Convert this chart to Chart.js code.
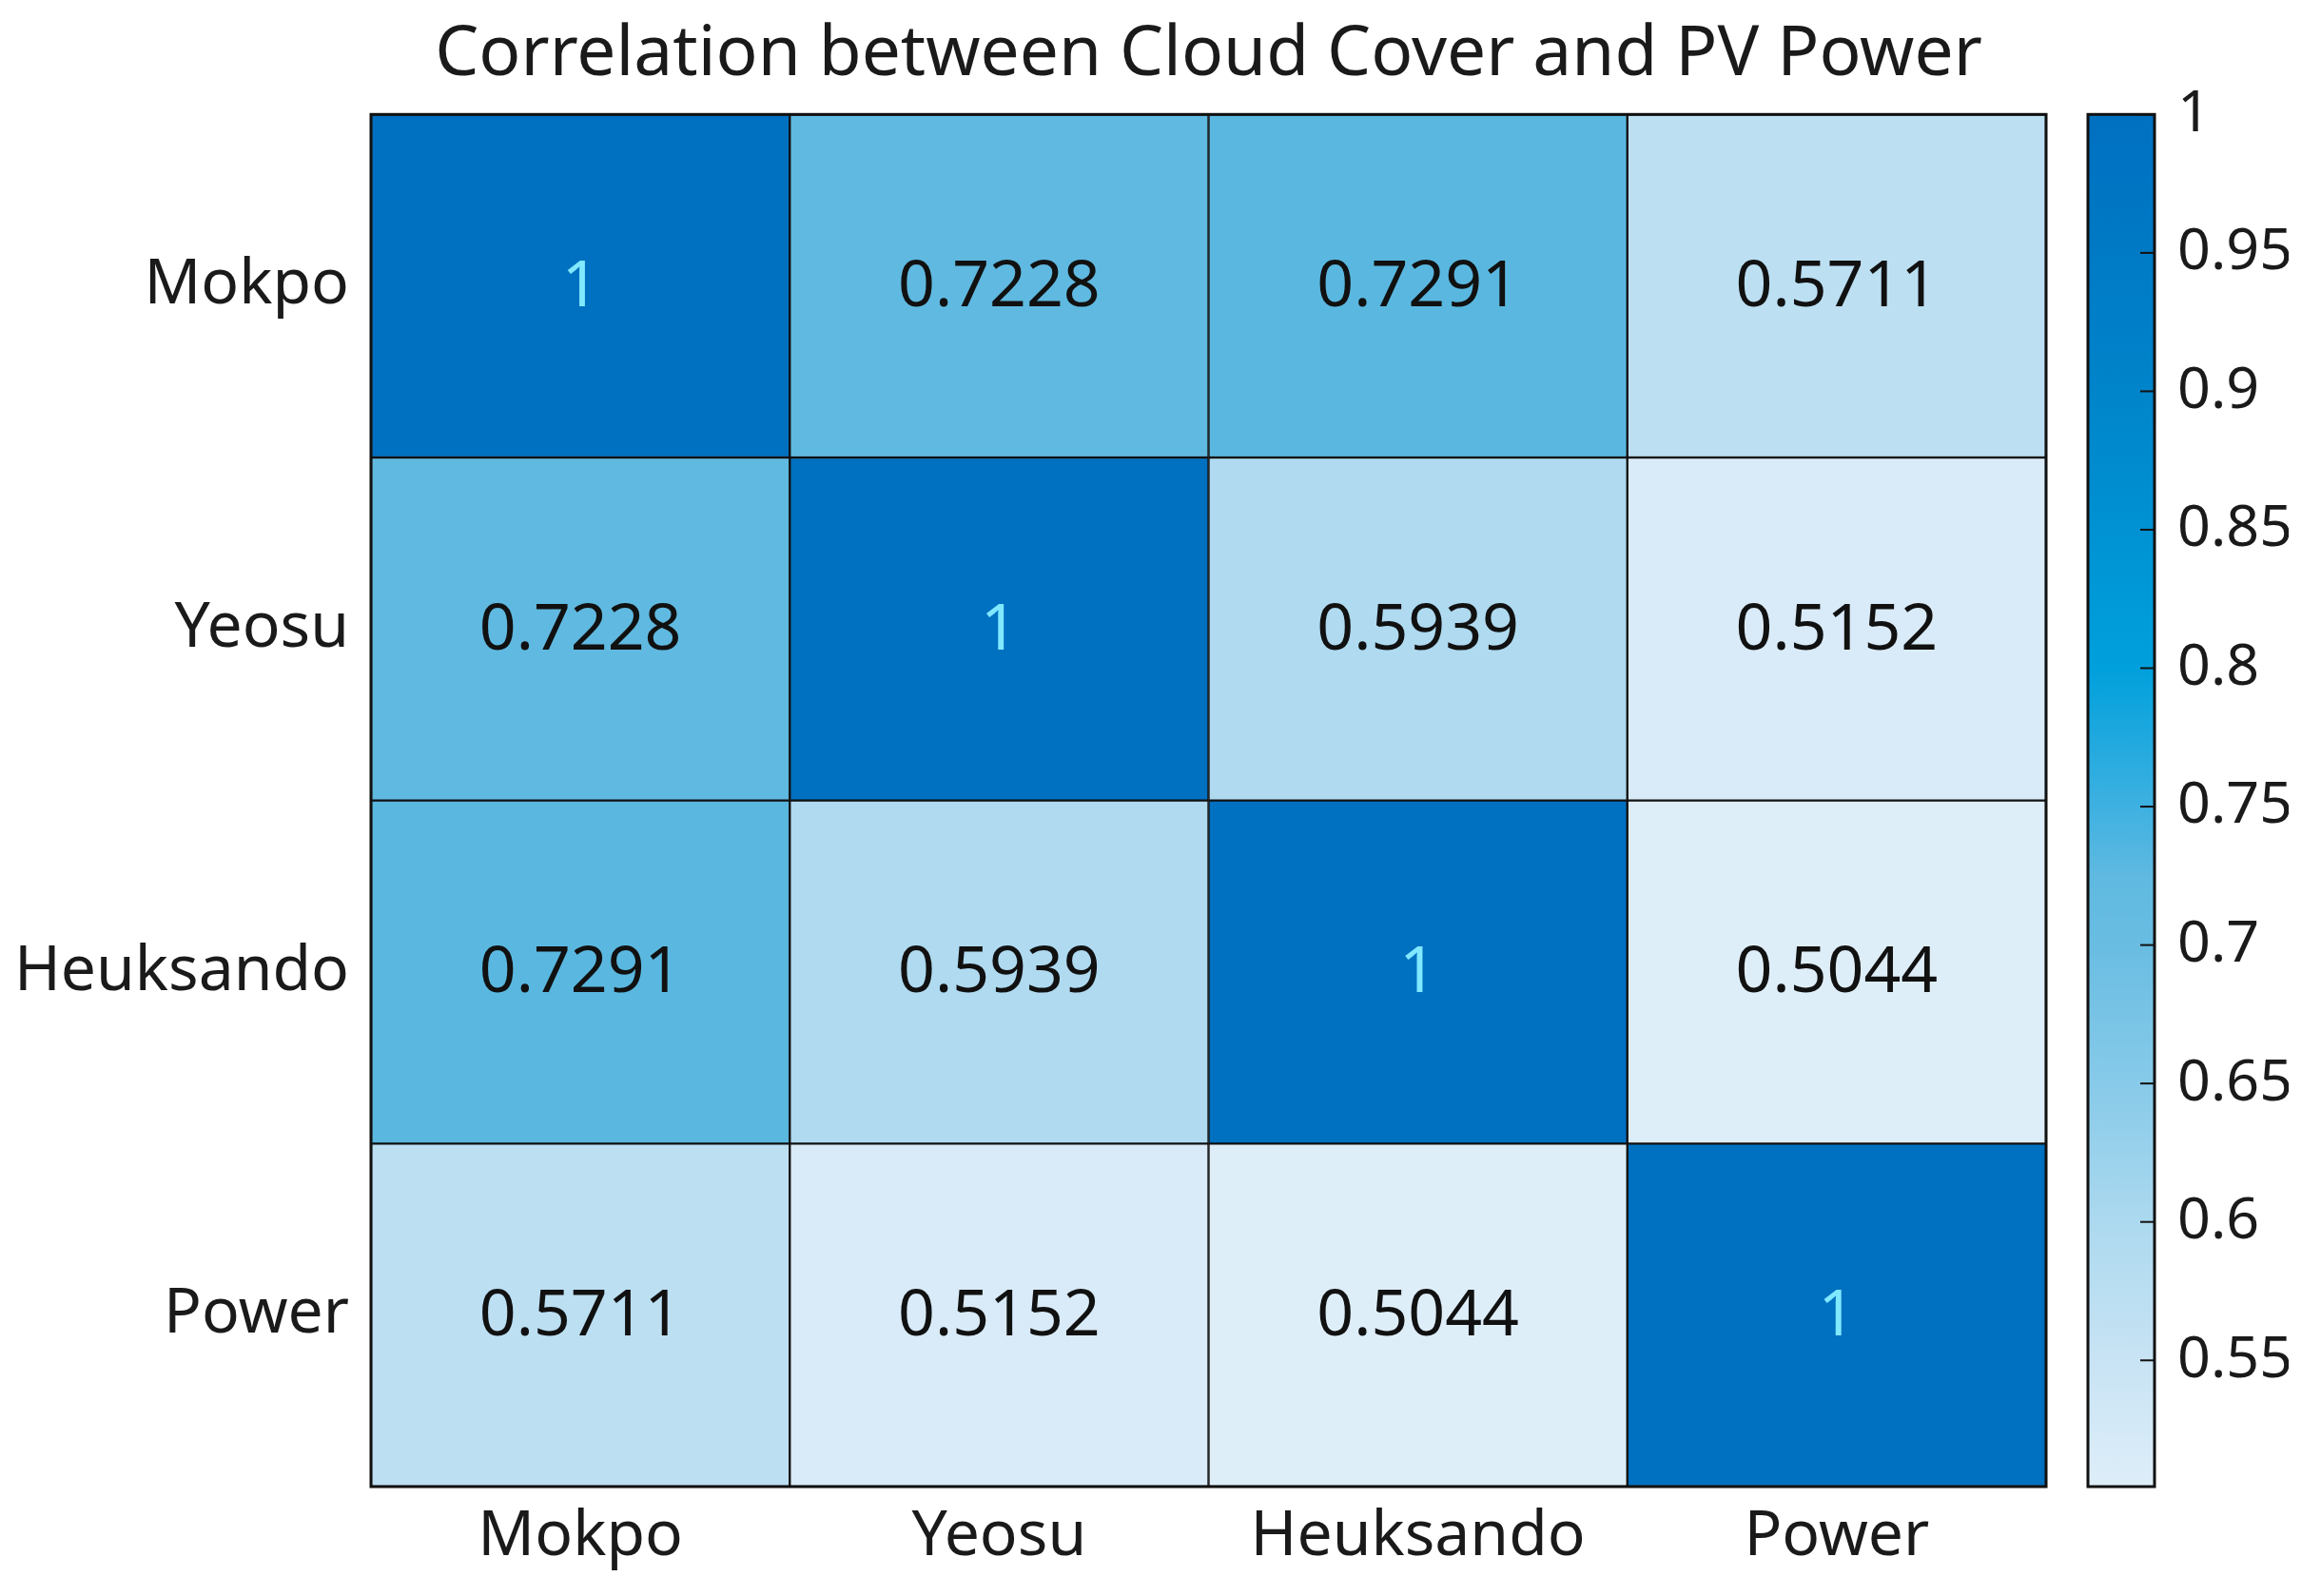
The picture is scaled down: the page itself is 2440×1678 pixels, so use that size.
<!DOCTYPE html>
<html>
<head>
<meta charset="utf-8">
<script src="https://cdn.jsdelivr.net/npm/chart.js@4.4.1/dist/chart.umd.min.js"></script>
<style>
  html, body { margin: 0; padding: 0; background: #fff; }
  #wrap { width: 2440px; height: 1678px; }
</style>
</head>
<body>
<div id="wrap"><canvas id="heat" width="2440" height="1678"></canvas></div>
<script>
// Data
const colLabels = ['Mokpo', 'Yeosu', 'Heuksando', 'Power'];
const rowLabels = ['Mokpo', 'Yeosu', 'Heuksando', 'Power'];
const rowMokpo = [1, 0.7228, 0.7291, 0.5711];
const rowYeosu = [0.7228, 1, 0.5939, 0.5152];
const rowHeuksando = [0.7291, 0.5939, 1, 0.5044];
const rowPower = [0.5711, 0.5152, 0.5044, 1];
const matrix = [rowMokpo, rowYeosu, rowHeuksando, rowPower];
const cbTicks = [0.55, 0.6, 0.65, 0.7, 0.75, 0.8, 0.85, 0.9, 0.95, 1];

const cMin = 0.5044;
const cMax = 1;

// Colour map (value -> rgb), blue sequential
const cmap = [
    [0.5044, [222, 238, 249]],
    [0.55, [200, 227, 244]],
    [0.6, [172, 217, 239]],
    [0.65, [135, 202, 233]],
    [0.7, [105, 189, 226]],
    [0.725, [95, 185, 224]],
    [0.75, [62, 177, 225]],
    [0.8, [0, 160, 220]],
    [0.85, [0, 146, 210]],
    [0.9, [0, 132, 202]],
    [1.0, [0, 112, 192]]
];

function colorFor(v) {
    for (let i = 1; i < cmap.length; i++) {
        if (v <= cmap[i][0]) {
            const [v0, c0] = cmap[i - 1];
            const [v1, c1] = cmap[i];
            const t = (v - v0) / (v1 - v0);
            const c = c0.map((ch, k) => Math.round(ch + (c1[k] - ch) * t));
            return `rgb(${c[0]},${c[1]},${c[2]})`;
        }
    }
    const c = cmap[cmap.length - 1][1];
    return `rgb(${c[0]},${c[1]},${c[2]})`;
}

const FONT = '"Noto Sans", "Open Sans", sans-serif';
const TEXT = '#1a1a1a';

// Cell value labels
const cellLabels = {
    id: 'cellLabels',
    afterDatasetsDraw(chart) {
        const ctx = chart.ctx;
        ctx.save();
        ctx.font = `68px ${FONT}`;
        ctx.textAlign = 'center';
        ctx.textBaseline = 'middle';
        chart.data.datasets.forEach((ds, i) => {
            const meta = chart.getDatasetMeta(i);
            meta.data.forEach((el, j) => {
                const v = matrix[i][j];
                ctx.fillStyle = v === 1 ? '#80e8ff' : '#111';
                const txt = v === 1 ? '1' : v.toFixed(4);
                ctx.fillText(txt, el.x, (el.y + el.base) / 2 + 2);
            });
        });
        ctx.restore();
    }
};

// Outer frame + colour bar drawn against the 'cb' scale
const frameAndBar = {
    id: 'frameAndBar',
    afterDraw(chart) {
        const ctx = chart.ctx;
        const a = chart.chartArea;
        ctx.save();
        ctx.strokeStyle = '#111';
        ctx.lineWidth = 3;
        ctx.strokeRect(a.left, a.top, a.right - a.left, a.bottom - a.top);

        const cb = chart.scales.cb;
        const x0 = a.right + 44;
        const w = 70;
        const top = cb.getPixelForValue(cMax);
        const bot = cb.getPixelForValue(cMin);
        const grad = ctx.createLinearGradient(0, top, 0, bot);
        cmap.forEach(([v]) => {
            const off = (cb.getPixelForValue(v) - top) / (bot - top);
            grad.addColorStop(Math.min(1, Math.max(0, off)), colorFor(v));
        });
        ctx.fillStyle = grad;
        ctx.fillRect(x0, top, w, bot - top);
        ctx.lineWidth = 2;
        cbTicks.forEach(t => {
            const y = cb.getPixelForValue(t);
            ctx.beginPath();
            ctx.moveTo(x0 + w, y);
            ctx.lineTo(x0 + w - 15, y);
            ctx.stroke();
        });
        ctx.lineWidth = 3;
        ctx.strokeRect(x0, top, w, bot - top);
        ctx.restore();
    }
};

const datasets = matrix.map((row, i) => ({
    label: rowLabels[i],
    data: row.map(() => 1),
    backgroundColor: row.map(v => colorFor(v)),
    borderColor: '#111',
    borderWidth: 1.5,
    borderSkipped: false,
    barPercentage: 1,
    categoryPercentage: 1
}));

const ctx = document.getElementById('heat').getContext('2d');
new Chart(ctx, {
    type: 'bar',
    data: { labels: colLabels, datasets: datasets },
    options: {
        responsive: false,
        animation: false,
        devicePixelRatio: 1,
        layout: { padding: { left: 0, right: 34, top: 0, bottom: 15 } },
        plugins: {
            legend: { display: false },
            tooltip: { enabled: false },
            title: {
                display: true,
                text: 'Correlation between Cloud Cover and PV Power',
                fullSize: false,
                color: TEXT,
                font: { family: FONT, size: 73, weight: 'normal', lineHeight: 1.1 },
                padding: { top: 18, bottom: 22 }
            }
        },
        scales: {
            x: {
                stacked: true,
                grid: { display: false, drawTicks: false },
                border: { display: false },
                ticks: { color: TEXT, font: { family: FONT, size: 66 }, padding: 14 },
                afterFit: (scale) => { scale.height = 100; }
            },
            y: {
                stacked: true,
                reverse: true,
                min: 0,
                max: 4,
                grid: { display: false, drawTicks: false },
                border: { display: false },
                afterBuildTicks: (scale) => {
                    scale.ticks = rowLabels.map((_, i) => ({ value: i + 0.5 }));
                },
                ticks: {
                    color: TEXT,
                    font: { family: FONT, size: 66 },
                    padding: 23,
                    callback: (v) => rowLabels[Math.floor(v)]
                },
                afterFit: (scale) => { scale.width = 390; scale.paddingTop = 0; scale.paddingBottom = 0; }
            },
            cb: {
                type: 'linear',
                position: 'right',
                min: cMin,
                max: cMax,
                grid: { display: false, drawTicks: false },
                border: { display: false },
                afterBuildTicks: (scale) => {
                    scale.ticks = cbTicks.map(v => ({ value: v }));
                },
                ticks: {
                    color: TEXT,
                    font: { family: FONT, size: 61 },
                    padding: 138,
                    callback: (v) => String(+v.toFixed(2))
                },
                afterFit: (scale) => { scale.width = 255; scale.paddingTop = 0; scale.paddingBottom = 0; }
            }
        }
    },
    plugins: [cellLabels, frameAndBar]
});
</script>
</body>
</html>
